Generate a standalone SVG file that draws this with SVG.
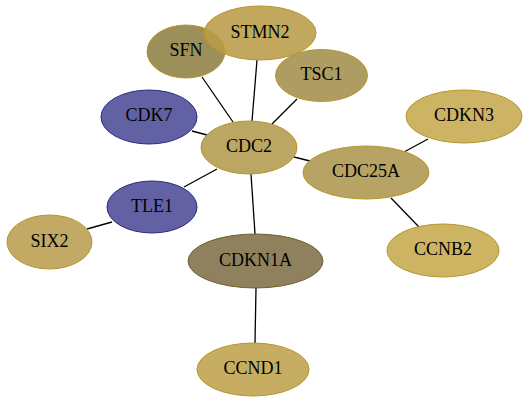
<svg xmlns="http://www.w3.org/2000/svg" width="528" height="403" viewBox="0 0 528 403">
<style>
.n ellipse{stroke-width:1;fill-opacity:0.88}
.n text{font-family:"Liberation Serif","Times New Roman",serif;font-size:18px;text-anchor:middle;fill:#000}
.e line{stroke:#000;stroke-width:1.3}
.g ellipse{stroke:#b8962a}
.b ellipse{fill:#4b4b96;stroke:#2a2a80}
</style>
<rect width="528" height="403" fill="#fff"/>
<g id="edges" class="e">
<line x1="202" y1="77" x2="233" y2="122"/>
<line x1="257" y1="60" x2="252" y2="121"/>
<line x1="297" y1="99" x2="272" y2="124"/>
<line x1="192" y1="131" x2="207" y2="135"/>
<line x1="184" y1="187" x2="217" y2="169"/>
<line x1="294" y1="157" x2="310" y2="161"/>
<line x1="251" y1="174" x2="255" y2="234"/>
<line x1="112" y1="222" x2="87" y2="229"/>
<line x1="256" y1="288" x2="255" y2="343"/>
<line x1="404" y1="152" x2="428" y2="139"/>
<line x1="391" y1="198" x2="419" y2="227"/>
</g>
<g id="SFN" class="n g"><ellipse cx="186" cy="51.5" rx="39" ry="26.5" fill="#8f7f42"/><text x="186" y="56">SFN</text></g>
<g id="STMN2" class="n g"><ellipse cx="260" cy="33" rx="56" ry="27" fill="#b99c48"/><text x="260" y="38">STMN2</text></g>
<g id="TSC1" class="n g"><ellipse cx="321.5" cy="75.5" rx="46" ry="26" fill="#a38f4c"/><text x="321.5" y="80">TSC1</text></g>
<g id="CDK7" class="n b"><ellipse cx="149" cy="117" rx="48" ry="27"/><text x="149" y="121">CDK7</text></g>
<g id="CDC2" class="n g"><ellipse cx="249" cy="147.5" rx="48" ry="26.5" fill="#b39a4e"/><text x="249" y="151.5">CDC2</text></g>
<g id="CDKN3" class="n g"><ellipse cx="464" cy="116.5" rx="58" ry="26.5" fill="#c6aa4f"/><text x="464" y="121">CDKN3</text></g>
<g id="CDC25A" class="n g"><ellipse cx="366" cy="172.5" rx="63" ry="26.5" fill="#ad974f"/><text x="366" y="177">CDC25A</text></g>
<g id="TLE1" class="n b"><ellipse cx="152" cy="207" rx="45" ry="26"/><text x="152" y="211.5">TLE1</text></g>
<g id="SIX2" class="n g"><ellipse cx="49.5" cy="242" rx="42.5" ry="27" fill="#b99e4f"/><text x="49.5" y="246.5">SIX2</text></g>
<g id="CCNB2" class="n g"><ellipse cx="443" cy="250.5" rx="56" ry="26.5" fill="#c6aa4d"/><text x="443" y="255">CCNB2</text></g>
<g id="CDKN1A" class="n"><ellipse cx="255.5" cy="261" rx="67.5" ry="27" fill="#7f7048" stroke="#6e5e30"/><text x="255.5" y="265.5">CDKN1A</text></g>
<g id="CCND1" class="n g"><ellipse cx="253" cy="369.5" rx="56" ry="26.5" fill="#bfa24c"/><text x="253" y="374">CCND1</text></g>
</svg>
